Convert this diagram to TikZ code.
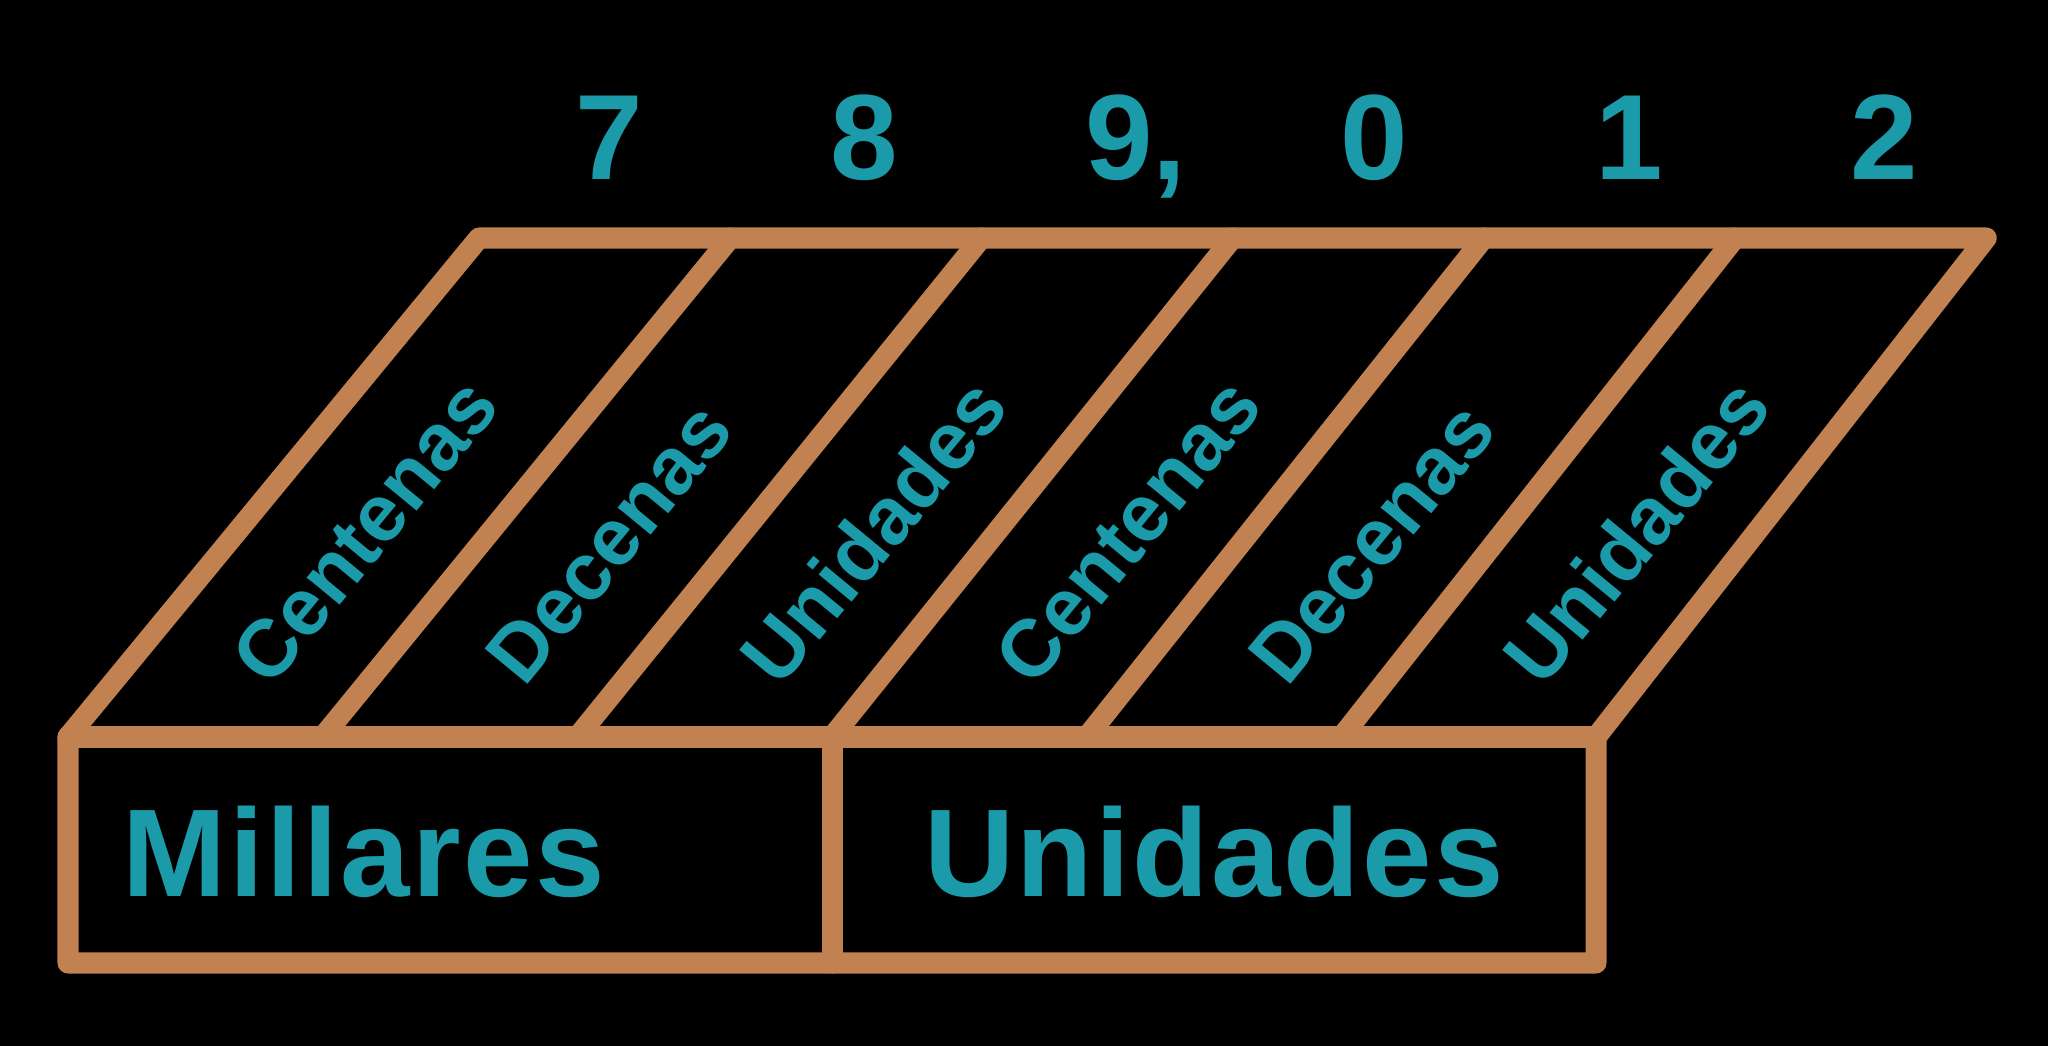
\documentclass[tikz,border=0pt]{standalone}
\usepackage{fontspec}
\setmainfont{Liberation Sans}
\usepackage{tikz}
\definecolor{copper}{RGB}{194,129,80}
\definecolor{lagoon}{RGB}{27,154,170}

\begin{document}
\begin{tikzpicture}[x=0.01cm,y=-0.01cm,
    frame/.style={draw=copper,line width=0.21cm,line join=round,line cap=round},
    digit/.style={text=lagoon,font=\fontsize{34.5}{36}\selectfont\bfseries,anchor=base,inner sep=0pt},
    colname/.style={text=lagoon,font=\fontsize{23}{26}\selectfont\bfseries,rotate=50.5,anchor=west,inner sep=0pt},
    group/.style={text=lagoon,font=\fontsize{35.5}{38}\selectfont\bfseries\addfontfeature{LetterSpace=2},anchor=base,inner sep=0pt}]
    \fill[black] (0,0) rectangle (2048,1046);
    \useasboundingbox (0,0) rectangle (2048,1046);
    % corners of the slanted top face
    \foreach \k in {0,...,6}{
      \coordinate (t\k) at ({479+251.2*\k},238);
      \coordinate (b\k) at ({68+254.7*\k},737);
    }
    \coordinate (f0) at (68,963);
    \coordinate (f6) at (1596,963);
    \draw[frame] (b0) -- (t0) -- (t6) -- (b6) -- (f6) -- (f0) -- cycle;
    \draw[frame] (b0) -- (b6);
    \foreach \k in {1,...,5} \draw[frame] (b\k) -- (t\k);
    \draw[frame] (b3) -- (b3 |- f0);
    % place values
    \foreach \lab [count=\k from 0] in {Centenas,Decenas,Unidades,Centenas,Decenas,Unidades}
      \node[colname] (c\k) at ({68+254.7*(\k+0.5)+0.13*(411-3.5*(\k+0.5))},672) {\lab};
    \foreach \d [count=\k from 0] in {7,8,{9\rlap{,}},0,1,2}
      \node[digit] (d\k) at ({609+255*\k},180) {\d};
    \node[group] (mil) at (364,896) {Millares};
    \node[group] (uni) at (1214,896) {Unidades};
\end{tikzpicture}
\end{document}
